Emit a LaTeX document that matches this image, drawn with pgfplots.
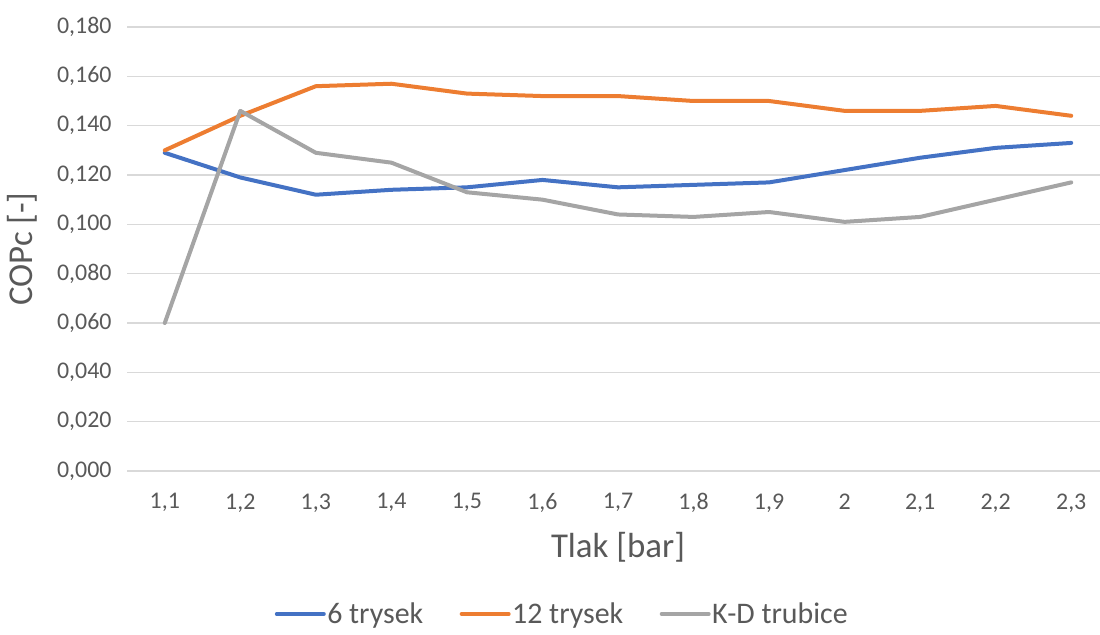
\documentclass[border=0pt]{standalone}
\usepackage{fontspec}
\setmainfont{Carlito}
\usepackage{pgfplots}
\pgfplotsset{compat=1.18}
\definecolor{c1}{HTML}{4472C4}
\definecolor{c2}{HTML}{ED7D31}
\definecolor{c3}{HTML}{A5A5A5}
\definecolor{txt}{HTML}{595959}
\definecolor{gridc}{HTML}{D9D9D9}
\begin{document}
\begin{tikzpicture}
\path[use as bounding box] (0,0) rectangle (1100bp,635bp);
\begin{axis}[
  at={(127bp,164bp)}, anchor=south west,
  scale only axis, width=982bp, height=444bp,
  xmin=-0.5, xmax=12.5, ymin=0, ymax=0.18,
  xtick={0,1,2,3,4,5,6,7,8,9,10,11,12},
  xticklabels={{1,1},{1,2},{1,3},{1,4},{1,5},{1,6},{1,7},{1,8},{1,9},{2},{2,1},{2,2},{2,3}},
  ytick={0,0.02,0.04,0.06,0.08,0.1,0.12,0.14,0.16,0.18},
  axis line style={draw=none},
  major tick length=0pt,
  ymajorgrids, grid style={gridc, line width=1.3bp},
  /pgf/number format/assume math mode=true,
  yticklabel style={/pgf/number format/fixed, /pgf/number format/fixed zerofill, /pgf/number format/precision=3, /pgf/number format/use comma, xshift=-12bp},
  scaled y ticks=false,
  tick label style={font=\fontsize{24}{26}\selectfont, text=txt},
  xticklabel style={yshift=-19bp},
  xlabel={Tlak [bar]},
  xlabel style={at={(axis description cs:0.5,-0.171)}, anchor=center, font=\fontsize{35}{37}\selectfont, text=txt},
  ylabel={COPc [-]},
  ylabel style={at={(axis description cs:-0.107,0.5)}, anchor=center, font=\fontsize{35}{37}\selectfont, text=txt},
  legend style={at={(axis description cs:0.443,-0.322)}, anchor=center, draw=none, fill=none,
    legend columns=3, font=\fontsize{30}{32}\selectfont, text=txt,
    nodes={inner sep=1.5bp},
    /tikz/every even column/.append style={column sep=35bp}},
  legend image code/.code={\draw[#1] (0bp,0bp) -- (47bp,0bp);},
  every axis plot/.append style={line width=4bp, line join=round, line cap=round},
]
\addplot[c1] coordinates {(0,0.129) (1,0.119) (2,0.112) (3,0.114) (4,0.115) (5,0.118) (6,0.115) (7,0.116) (8,0.117) (9,0.122) (10,0.127) (11,0.131) (12,0.133)};
\addlegendentry{6 trysek}
\addplot[c2] coordinates {(0,0.130) (1,0.144) (2,0.156) (3,0.157) (4,0.153) (5,0.152) (6,0.152) (7,0.150) (8,0.150) (9,0.146) (10,0.146) (11,0.148) (12,0.144)};
\addlegendentry{12 trysek}
\addplot[c3] coordinates {(0,0.060) (1,0.146) (2,0.129) (3,0.125) (4,0.113) (5,0.110) (6,0.104) (7,0.103) (8,0.105) (9,0.101) (10,0.103) (11,0.110) (12,0.117)};
\addlegendentry{K-D trubice}
\end{axis}
\end{tikzpicture}
\end{document}
